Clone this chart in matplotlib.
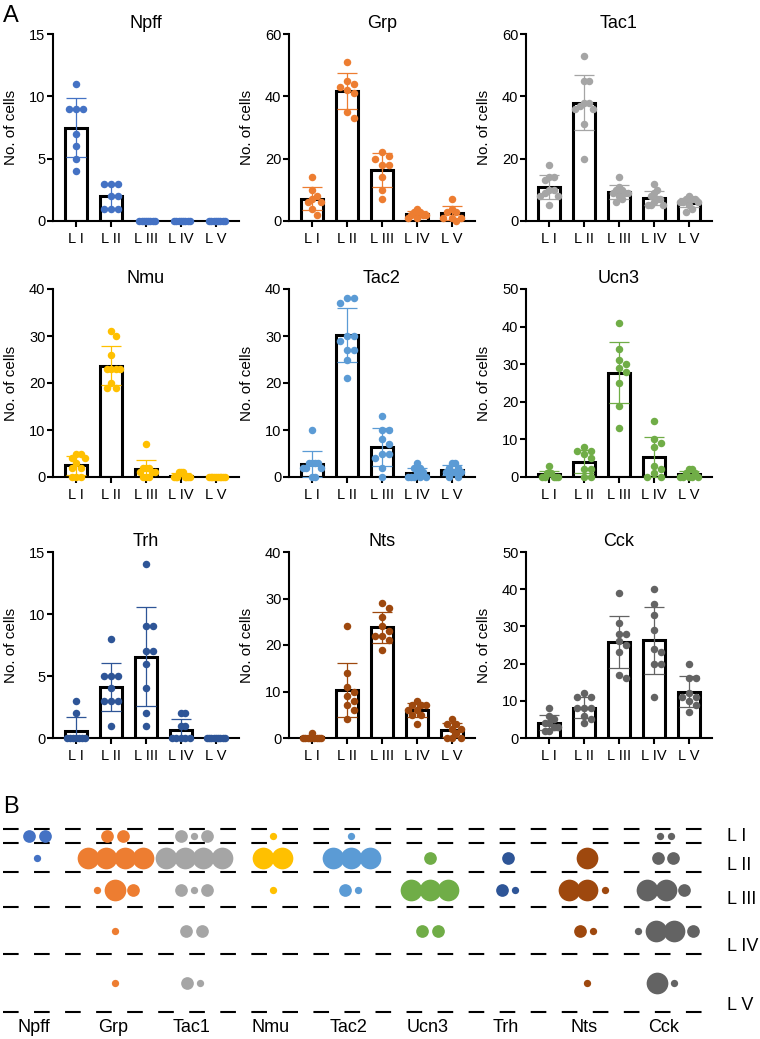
import numpy as np
import matplotlib
matplotlib.use("Agg")
import matplotlib.pyplot as plt
from matplotlib.transforms import offset_copy

plt.rcParams['font.family'] = ['Liberation Sans', 'DejaVu Sans']

# ---------- panel A data (cells per section, per lamina) ----------
layers = ["L I", "L II", "L III", "L IV", "L V"]
genes = ["Npff", "Grp", "Tac1", "Nmu", "Tac2", "Ucn3", "Trh", "Nts", "Cck"]
colors = ["#4472C4", "#ED7D31", "#A5A5A5", "#FFC000", "#5B9BD5",
          "#70AD47", "#2E5597", "#9E480E", "#636363"]
ymax = [15, 60, 60, 40, 40, 50, 15, 40, 50]
ystep = [5, 20, 20, 10, 10, 10, 5, 10, 10]

npff = [[11, 9, 9, 9, 7, 6, 5, 4], [3, 3, 3, 2, 2, 1, 1, 1],
        [0, 0, 0, 0, 0, 0, 0, 0], [0, 0, 0, 0, 0, 0, 0, 0], [0, 0, 0, 0, 0, 0, 0, 0]]
grp = [[14, 10, 8, 7, 6, 6, 4, 2], [51, 45, 44, 43, 42, 41, 35, 33],
       [22, 21, 20, 18, 18, 14, 10, 7], [4, 3, 3, 2, 2, 2, 1, 1], [7, 4, 3, 3, 1, 1, 1, 0]]
tac1 = [[18, 14, 14, 13, 10, 10, 9, 8, 8, 5], [53, 45, 45, 38, 38, 37, 36, 36, 31, 20],
        [14, 11, 10, 10, 9, 9, 9, 8, 7, 6], [12, 10, 9, 8, 7, 7, 6, 5, 5, 5],
        [8, 7, 7, 7, 6, 6, 6, 5, 4, 3]]
nmu = [[5, 5, 4, 4, 3, 2, 2, 0, 0, 0], [31, 30, 26, 23, 23, 23, 23, 20, 19, 19],
       [7, 2, 2, 2, 1, 1, 1, 0, 0, 0], [1, 1, 1, 0, 0, 0, 0, 0, 0, 0],
       [0, 0, 0, 0, 0, 0, 0, 0, 0, 0]]
tac2 = [[10, 3, 3, 3, 3, 2, 2, 2, 0, 0], [38, 38, 37, 30, 30, 29, 27, 27, 25, 21],
        [13, 10, 10, 8, 7, 5, 5, 4, 2, 0], [3, 2, 2, 1, 1, 0, 0, 0, 0, 0],
        [3, 3, 2, 2, 1, 1, 1, 1, 0, 0]]
ucn3 = [[3, 1, 1, 1, 0, 0, 0, 0, 0], [8, 7, 7, 6, 5, 2, 2, 0, 0],
        [41, 34, 31, 30, 29, 28, 25, 19, 13], [15, 10, 9, 8, 3, 2, 1, 0, 0],
        [2, 2, 1, 1, 0, 0, 0, 0, 0]]
trh = [[3, 2, 0, 0, 0, 0, 0, 0, 0], [8, 5, 5, 5, 4, 3, 3, 3, 1],
       [14, 9, 9, 7, 7, 6, 4, 2, 1], [2, 2, 1, 1, 0, 0, 0, 0, 0],
       [0, 0, 0, 0, 0, 0, 0, 0, 0]]
nts = [[1, 0, 0, 0, 0, 0, 0, 0, 0], [24, 14, 11, 10, 9, 8, 7, 6, 4],
       [29, 28, 26, 24, 23, 22, 22, 21, 19], [8, 7, 7, 7, 6, 6, 5, 5, 3],
       [4, 3, 3, 2, 2, 1, 0, 0, 0]]
cck = [[8, 6, 5, 4, 4, 3, 3, 2, 2], [12, 11, 11, 8, 8, 8, 6, 5, 4],
       [39, 31, 28, 28, 26, 25, 23, 17, 16], [40, 36, 33, 29, 24, 23, 20, 20, 11],
       [20, 16, 16, 12, 11, 11, 10, 9, 7]]
panel_a = [npff, grp, tac1, nmu, tac2, ucn3, trh, nts, cck]

# ---------- panel B data: dot size class per lamina (1 small, 2 medium, 3 large) ----------
b_npff = [[2, 2], [1], [], [], []]
b_grp = [[2, 2], [3, 3, 3, 3], [1, 3, 2], [1], [1]]
b_tac1 = [[2, 1, 2], [3, 3, 3, 3], [2, 1, 2], [2, 2], [2, 1]]
b_nmu = [[1], [3, 3], [1], [], []]
b_tac2 = [[1], [3, 3, 3], [2, 1], [], []]
b_ucn3 = [[], [2], [3, 3, 3], [2, 2], []]
b_trh = [[], [2], [2, 1], [], []]
b_nts = [[], [3], [3, 3, 1], [2, 1], [1]]
b_cck = [[1, 1], [2, 2], [3, 3, 2], [1, 3, 3, 2], [3, 1]]
panel_b = [b_npff, b_grp, b_tac1, b_nmu, b_tac2, b_ucn3, b_trh, b_nts, b_cck]
lamina_edges = [0, 14, 42.4, 78, 124.7, 182.4]

W, H = 760, 1039
fig = plt.figure(figsize=(W / 100, H / 100), dpi=100)


def swarm(vals, top, d=7.0, limit=9.0):
    # simple beeswarm in pixel space, squeezed to fit inside the bar
    vals = np.asarray(vals, float)
    ypx = vals * 187.0 / top
    offs = np.zeros(len(vals))
    placed = []
    for i in np.argsort(-vals, kind="stable"):
        for k in [0, 1, -1, 2, -2, 3, -3, 4, -4, 5, -5, 6, -6]:
            x = k * d
            if all((x - px) ** 2 + (ypx[i] - py) ** 2 >= (0.95 * d) ** 2 for px, py in placed):
                break
        placed.append((x, ypx[i]))
        offs[i] = x
    m = np.abs(offs).max()
    if m > limit:
        offs = offs * limit / m
    return offs / 35.0


lefts = [53, 289, 526]
rows = [(34, 221), (289, 477), (552, 738)]
x = np.arange(len(layers))
for idx, g in enumerate(genes):
    r, c = divmod(idx, 3)
    top, bot = rows[r]
    ax = fig.add_axes([lefts[c] / W, 1 - bot / H, 186 / W, (bot - top) / H])
    data = panel_a[idx]
    col = colors[idx]
    means = [np.mean(v) for v in data]
    sds = [np.std(v, ddof=1) for v in data]
    ax.bar(x, means, width=0.62, color="white", edgecolor="black", linewidth=2.2, zorder=2)
    ax.errorbar(x, means, yerr=sds, fmt="none", ecolor=col, elinewidth=0.9,
                capsize=7, capthick=0.9, zorder=3)
    for i, v in enumerate(data):
        ax.plot(i + swarm(v, ymax[idx]), v, "o", ms=5.4, color=col, mec="none",
                zorder=4, clip_on=False)
    ax.set_xlim(-0.66, 4.66)
    ax.set_ylim(0, ymax[idx])
    ax.set_yticks(np.arange(0, ymax[idx] + 1, ystep[idx]))
    ax.set_xticks(x)
    ax.set_xticklabels(layers)
    ax.spines[["top", "right"]].set_visible(False)
    ax.spines[["left", "bottom"]].set_linewidth(1.5)
    ax.tick_params(width=1.5, length=4, labelsize=10.5)
    ax.tick_params(axis="y", pad=1.5)
    ax.tick_params(axis="x", pad=4)
    ax.set_title(g, fontsize=13, pad=4)
    ax.set_ylabel("No. of cells", fontsize=11)
    ax.yaxis.set_label_coords(-0.19, 0.5)

fig.text(3 / W, 1 - 22 / H, "A", fontsize=17, va="baseline")
fig.text(3 / W, 1 - 813 / H, "B", fontsize=17, va="baseline")

# ---------- panel B ----------
axb = fig.add_axes([0, 0, 1, 219 / H])
axb.set_xlim(-36.7 / 78.6, (W - 36.7) / 78.6)
axb.set_ylim(209.7, -9.3)
axb.axis("off")
axb.hlines(lamina_edges, -0.43, 8.5, colors="black", linewidth=1.5,
           linestyles=[(0, (7.5, 7.4))])

radius = {1: 3.65, 2: 6.35, 3: 10.85}
centers = [(a + b) / 2 for a, b in zip(lamina_edges[:-1], lamina_edges[1:])]
for gi, per_layer in enumerate(panel_b):
    for li, sizes in enumerate(per_layer):
        if not sizes:
            continue
        pos = [0.0]
        for a, b in zip(sizes[:-1], sizes[1:]):
            pos.append(pos[-1] + min(radius[a] + radius[b] + 3, 18.5))
        pos = np.array(pos) - (pos[0] + pos[-1]) / 2
        for p, s in zip(pos, sizes):
            tr = offset_copy(axb.transData, fig=fig, x=p, y=0, units="dots")
            axb.plot(gi, centers[li], "o", ms=2 * radius[s] * 0.72, color=colors[gi],
                     mec="none", transform=tr, clip_on=False)
    axb.text(gi - 0.03, 202.4, genes[gi], fontsize=13, ha="center", va="baseline")

label_depth = [7.4, 35.7, 70.7, 117.4, 175.7]
for name, dpt in zip(layers, label_depth):
    axb.text(8.78, dpt, name, fontsize=13, ha="left", va="center")

fig.savefig("out.png", dpi=100)
